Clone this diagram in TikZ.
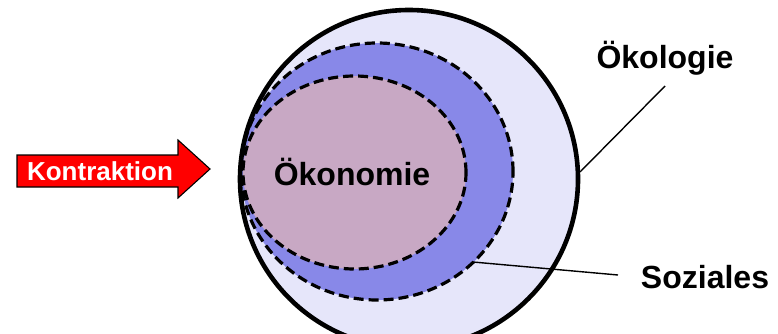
\documentclass[tikz,border=0pt]{standalone}
\usepackage{fontspec}
\setmainfont{Liberation Sans}
\definecolor{oekobg}{RGB}{230,230,250}
\definecolor{sozbg}{RGB}{136,136,232}
\definecolor{oekonbg}{RGB}{200,168,196}
\definecolor{arrred}{RGB}{255,0,0}
\begin{document}
\begin{tikzpicture}[x=1pt,y=1pt,
  lbl/.style={font=\bfseries\fontsize{32}{38}\selectfont, inner sep=0pt},
  dashring/.style={line width=3.2pt, dash pattern=on 10pt off 5pt},
  leader/.style={line width=1.4pt}]
\useasboundingbox (0,0) rectangle (778,333);
\clip (0,0) rectangle (778,333);
% rings
\fill[oekobg] (409,154) circle[radius=169];
\filldraw[fill=sozbg, draw=black, dashring] (377,161.5) ellipse[x radius=136, y radius=128.5];
\filldraw[fill=oekonbg, draw=black, dashring] (354.5,160.5) ellipse[x radius=111.5, y radius=96.5];
\draw[line width=4.6pt] (409,154) circle[radius=169];
% labels
\node[lbl] (oekon) at (352,161) {Ökonomie};
\node[lbl] (oekol) at (665,275) {Ökologie};
\node[lbl] (soz) at (705,56) {Soziales};
% leader lines
\coordinate (oekolEnd) at (580,161);
\coordinate (oekolStart) at (665,247);
\coordinate (sozEnd) at (473,71);
\coordinate (sozStart) at (618,58);
\draw[leader] (oekolStart) -- (oekolEnd);
\draw[leader] (sozStart) -- (sozEnd);
% arrow
\draw[fill=arrred, line width=1.1pt, line join=miter]
  (17,146) -- (178,146) -- (178,135) -- (210,164) -- (178,193) -- (178,178) -- (17,178) -- cycle;
\node[font=\bfseries\fontsize{26}{31}\selectfont, text=white, inner sep=0pt] (kontr) at (100,162) {Kontraktion};
\end{tikzpicture}
\end{document}
